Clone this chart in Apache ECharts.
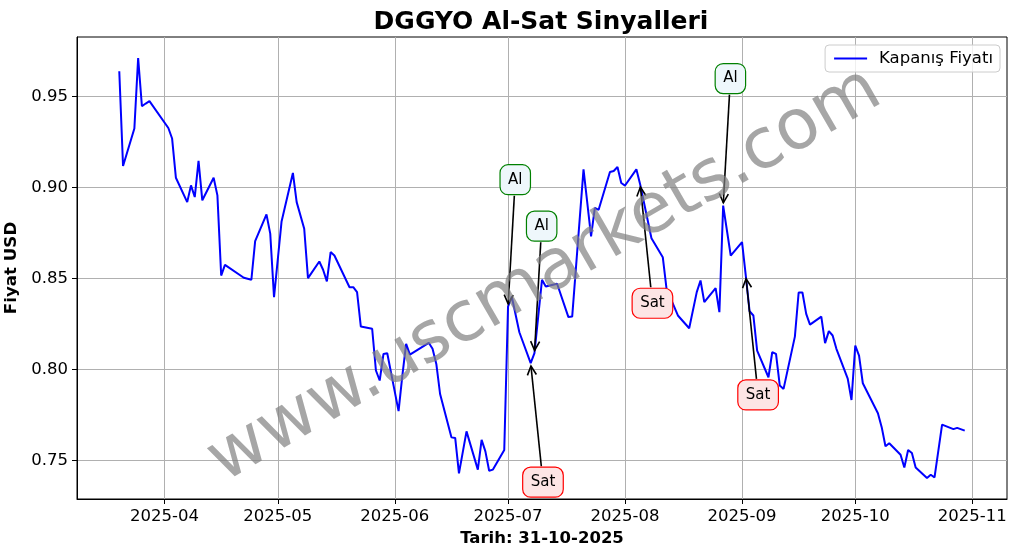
<!DOCTYPE html>
<html>
<head>
<meta charset="utf-8">
<script src="https://cdn.jsdelivr.net/npm/echarts@6/dist/echarts.min.js"></script>
<style>
html,body{margin:0;padding:0;background:#fff;}
#chart{width:1017px;height:554px;}
</style>
</head>
<body>
<div id="chart"></div>
<script>
// ---- Data ----
const dates = [
"2025-03-20","2025-03-21","2025-03-24","2025-03-25","2025-03-26","2025-03-27","2025-03-28",
"2025-04-02","2025-04-03","2025-04-04","2025-04-07","2025-04-08","2025-04-09","2025-04-10","2025-04-11",
"2025-04-14","2025-04-15","2025-04-16","2025-04-17","2025-04-22","2025-04-24","2025-04-25",
"2025-04-28","2025-04-29","2025-04-30","2025-05-02","2025-05-05","2025-05-06","2025-05-08","2025-05-09",
"2025-05-12","2025-05-13","2025-05-14","2025-05-15","2025-05-16","2025-05-20","2025-05-21","2025-05-22","2025-05-23",
"2025-05-26","2025-05-27","2025-05-28","2025-05-29","2025-05-30","2025-06-02","2025-06-03","2025-06-04","2025-06-05",
"2025-06-10","2025-06-11","2025-06-12","2025-06-13","2025-06-16","2025-06-17","2025-06-18","2025-06-20",
"2025-06-23","2025-06-24","2025-06-25","2025-06-26","2025-06-27","2025-06-30","2025-07-01","2025-07-02","2025-07-04",
"2025-07-07","2025-07-08","2025-07-10","2025-07-11","2025-07-14","2025-07-17","2025-07-18",
"2025-07-21","2025-07-23","2025-07-24","2025-07-25","2025-07-28","2025-07-29","2025-07-30","2025-07-31","2025-08-01",
"2025-08-04","2025-08-05","2025-08-08","2025-08-11","2025-08-12","2025-08-15","2025-08-18","2025-08-20","2025-08-21","2025-08-22",
"2025-08-25","2025-08-26","2025-08-27","2025-08-29","2025-09-01","2025-09-02","2025-09-03","2025-09-04","2025-09-05",
"2025-09-08","2025-09-09","2025-09-10","2025-09-11","2025-09-12","2025-09-15","2025-09-16","2025-09-17","2025-09-18","2025-09-19",
"2025-09-22","2025-09-23","2025-09-24","2025-09-25","2025-09-26","2025-09-29","2025-09-30","2025-10-01","2025-10-02","2025-10-03",
"2025-10-07","2025-10-08","2025-10-09","2025-10-10","2025-10-13","2025-10-14","2025-10-15","2025-10-16","2025-10-17",
"2025-10-20","2025-10-21","2025-10-22","2025-10-24","2025-10-27","2025-10-28","2025-10-30"
];
const prices = [
0.9637,0.9117,0.9323,0.9710,0.9445,0.9460,0.9473,
0.9326,0.9268,0.9053,0.8919,0.9011,0.8947,0.9145,0.8929,
0.9053,0.8956,0.8516,0.8575,0.8504,0.8493,0.8705,
0.8852,0.8746,0.8397,0.8813,0.9079,0.8919,0.8773,0.8502,
0.8593,0.8548,0.8484,0.8645,0.8626,0.8452,0.8452,0.8425,0.8236,
0.8224,0.7995,0.7940,0.8086,0.8090,0.7772,0.7967,0.8141,0.8082,
0.8147,0.8114,0.8031,0.7866,0.7628,0.7625,0.7430,0.7661,
0.7451,0.7614,0.7551,0.7445,0.7451,0.7559,0.8345,0.8400,0.8205,
0.8035,0.8090,0.8493,0.8456,0.8471,0.8288,0.8291,
0.9099,0.8731,0.8888,0.8877,0.9084,0.9090,0.9112,0.9024,0.9010,
0.9099,0.9017,0.8721,0.8617,0.8443,0.8297,0.8227,0.8425,0.8489,0.8370,
0.8447,0.8315,0.8900,0.8626,0.8700,0.8514,0.8320,0.8297,0.8104,
0.7958,0.8095,0.8086,0.7912,0.7894,0.8181,0.8423,0.8423,0.8306,0.8247,
0.8291,0.8145,0.8211,0.8187,0.8114,0.7950,0.7833,0.8132,0.8077,0.7925,
0.7760,0.7684,0.7579,0.7596,0.7533,0.7463,0.7559,0.7542,0.7463,
0.7405,0.7423,0.7408,0.7698,0.7673,0.7680,0.7665
];
// Signals
const buyDates = ["2025-07-01","2025-07-08","2025-08-27"];
const sellDates = ["2025-07-07","2025-08-05","2025-09-02"];
// Tick labels
const xTickLabels = ["2025-04","2025-05","2025-06","2025-07","2025-08","2025-09","2025-10","2025-11"];
const yTickValues = [0.75,0.80,0.85,0.90,0.95];
const titleText = "DGGYO Al-Sat Sinyalleri";
const xName = "Tarih: 31-10-2025";
const yName = "Fiyat USD";
const seriesName = "Kapanış Fiyatı";
const watermark = "www.uscmarkets.com";

// ---- Build ----
const FONT = "DejaVu Sans";
const GRID_L = 77, GRID_R = 10;
function ts(s){ return Date.parse(s + "T00:00:00Z"); }
const seriesData = dates.map((d,i)=>[ts(d), prices[i]]);
const t0 = ts(dates[0]), t1 = ts(dates[dates.length-1]);
const tspan = t1 - t0;
const vmin = Math.min(...prices), vmax = Math.max(...prices);
const vspan = vmax - vmin;
const xTicks = xTickLabels.map(s => ts(s + "-01"));
const xLabelMap = {};
xTicks.forEach((t,i)=>{ xLabelMap[t] = xTickLabels[i]; });
function priceAt(d){ return prices[dates.indexOf(d)]; }

const chart = echarts.init(document.getElementById('chart'), null, {renderer:'canvas'});
const option = {
  animation: false,
  backgroundColor: '#ffffff',
  textStyle: {fontFamily: FONT},
  title: {
    text: titleText, left: 536, textAlign: 'center', top: 5,
    textStyle: {fontFamily: FONT, fontSize: 25, fontWeight: 'bold', color: '#000'}
  },
  legend: {
    right: 17, top: 45,
    data: [{name: seriesName, icon: 'rect'}],
    itemWidth: 33, itemHeight: 2,
    backgroundColor: 'rgba(255,255,255,0.8)',
    borderColor: '#cccccc', borderWidth: 1, borderRadius: 4,
    padding: [5, 7, 5, 9],
    textStyle: {fontFamily: FONT, fontSize: 16.5, color: '#000', padding: [0,0,0,7]}
  },
  grid: {left: GRID_L, right: GRID_R, top: 37, bottom: 55, show: true, borderColor: '#000', borderWidth: 1,
         containLabel: false, outerBoundsMode: 'none'},
  xAxis: {
    type: 'value',
    min: t0 - 0.05*tspan, max: t1 + 0.05*tspan,
    name: xName, nameLocation: 'middle', nameGap: 29,
    nameTextStyle: {fontFamily: FONT, fontSize: 16.5, fontWeight: 'bold', color: '#000'},
    axisLine: {show: true, onZero: false, lineStyle: {color: '#000', width: 1}},
    axisTick: {show: true, length: 5, lineStyle: {color: '#000', width: 1}, customValues: xTicks},
    axisLabel: {
      customValues: xTicks, color: '#000', fontFamily: FONT, fontSize: 16.5, margin: 9,
      formatter: function(v){ return xLabelMap[v] || ''; }
    },
    splitLine: {show: true, lineStyle: {color: '#b0b0b0', width: 1}}
  },
  yAxis: {
    type: 'value',
    min: vmin - 0.05*vspan, max: vmax + 0.05*vspan,
    name: yName, nameLocation: 'middle', nameGap: 51,
    nameTextStyle: {fontFamily: FONT, fontSize: 16.7, fontWeight: 'bold', color: '#000'},
    axisLine: {show: true, onZero: false, lineStyle: {color: '#000', width: 1}},
    axisTick: {show: true, length: 5, lineStyle: {color: '#000', width: 1}, customValues: yTickValues},
    axisLabel: {
      customValues: yTickValues, color: '#000', fontFamily: FONT, fontSize: 16.5, margin: 9,
      formatter: function(v){ return v.toFixed(2); }
    },
    splitLine: {show: true, lineStyle: {color: '#b0b0b0', width: 1}}
  },
  series: [{
    name: seriesName, type: 'line', data: seriesData,
    showSymbol: false, symbol: 'none',
    lineStyle: {color: '#0000ff', width: 2}, itemStyle: {color: '#0000ff'}
  }]
};
chart.setOption(option);

// ---- Annotations (positioned through the chart's own scales) ----
const measureCtx = document.createElement('canvas').getContext('2d');
const ANN_FONT_SIZE = 15;
measureCtx.font = ANN_FONT_SIZE + 'px "' + FONT + '"';
const graphics = [];
function addAnnotation(dateStr, label, dy, fill, stroke){
  const p = chart.convertToPixel({gridIndex: 0}, [ts(dateStr), priceAt(dateStr)]);
  const tw = measureCtx.measureText(label).width;
  const hw = tw/2 + 8, hh = 15;
  const cx = p[0] + tw/2, cy = p[1] + dy;
  let dx = p[0]-cx, ddy = p[1]-cy;
  const len = Math.sqrt(dx*dx + ddy*ddy);
  dx /= len; ddy /= len;
  const tEdge = Math.min(Math.abs(dx) > 1e-6 ? hw/Math.abs(dx) : 1e9, Math.abs(ddy) > 1e-6 ? hh/Math.abs(ddy) : 1e9);
  const sx = cx + (tEdge+1)*dx, sy = cy + (tEdge+1)*ddy;
  const ex = p[0] - 2.8*dx, ey = p[1] - 2.8*ddy;
  const bx = ex - 9*dx, by = ey - 9*ddy;
  const nx = -ddy, ny = dx;
  graphics.push({type:'line', z: 50, shape:{x1:sx,y1:sy,x2:ex,y2:ey}, style:{stroke:'#000', lineWidth:1.6}});
  graphics.push({type:'polyline', z: 50, shape:{points:[[bx+4.5*nx, by+4.5*ny],[ex,ey],[bx-4.5*nx, by-4.5*ny]]}, style:{stroke:'#000', lineWidth:1.6, fill:null}});
  graphics.push({type:'rect', z: 51, shape:{x: cx-hw, y: cy-hh, width: 2*hw, height: 2*hh, r: 8}, style:{fill: fill, stroke: stroke, lineWidth: 1.2}});
  graphics.push({type:'text', z: 52, x: cx, y: cy, style:{text: label, fill:'#000', font: ANN_FONT_SIZE + 'px "' + FONT + '"', align:'center', verticalAlign:'middle'}});
}
buyDates.forEach(d => addAnnotation(d, 'Al', -127, '#eef7fb', '#008000'));
sellDates.forEach(d => addAnnotation(d, 'Sat', 119, '#fde5e5', '#ff0000'));

graphics.push({
  type: 'text', z: 100, x: 545, y: 276, rotation: Math.PI/6,
  style: {text: watermark, fill: 'rgba(128,128,128,0.7)', font: '70px "' + FONT + '"', align: 'center', verticalAlign: 'middle'}
});
chart.setOption({graphic: graphics});
</script>
</body>
</html>
